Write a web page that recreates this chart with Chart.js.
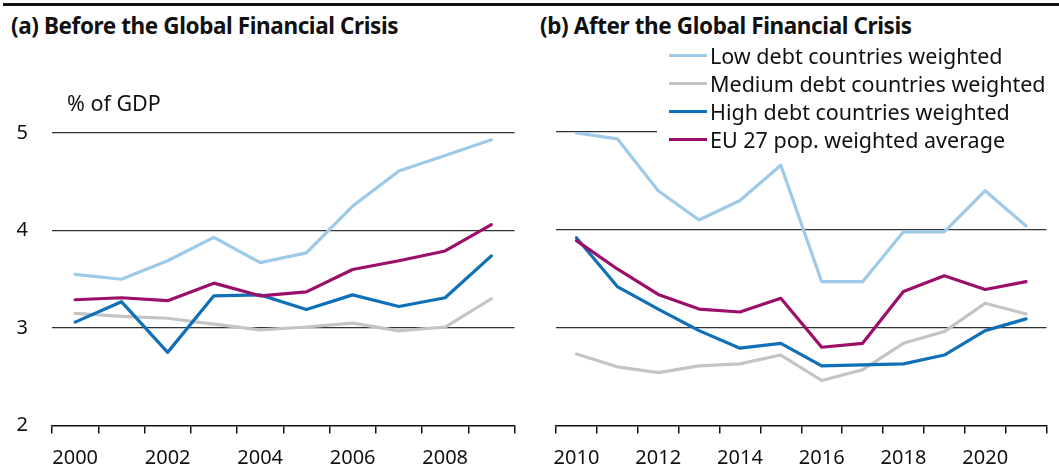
<!DOCTYPE html>
<html lang="en">
<head>
    <meta charset="UTF-8">
    <title>Before and after the Global Financial Crisis</title>
    <style>
        * {
            margin: 0;
            padding: 0;
            box-sizing: border-box;
        }

        body {
            width: 1059px;
            height: 468px;
            background: white;
            position: relative;
            overflow: hidden;
            font-family: 'Noto Sans', sans-serif;
            color: #111;
        }

        .top-rule {
            position: absolute;
            left: 3px;
            right: 0;
            top: 3px;
            height: 3px;
            background: #111;
        }

        .panel-title {
            position: absolute;
            top: 11px;
            font-size: 22.5px;
            line-height: 30px;
            font-weight: 700;
            letter-spacing: -0.4px;
            white-space: nowrap;
        }

        .unit {
            position: absolute;
            left: 67px;
            top: 89px;
            font-size: 21.5px;
            line-height: 28px;
            z-index: 2;
        }

        .chart-box {
            position: absolute;
        }

        #legend {
            position: absolute;
            left: 657px;
            top: 41px;
            width: 402px;
            height: 112px;
            background: white;
        }

        #legend .row {
            height: 28px;
            display: flex;
            align-items: center;
            font-size: 21.5px;
            white-space: nowrap;
        }

        #legend .swatch {
            width: 38px;
            height: 3px;
            margin-left: 12px;
            margin-right: 3px;
        }
    </style>
</head>
<body>
    <div class="top-rule"></div>
    <div class="panel-title" style="left: 11px;">(a) Before the Global Financial Crisis</div>
    <div class="panel-title" style="left: 540px;">(b) After the Global Financial Crisis</div>
    <div class="unit">% of GDP</div>

    <!-- left canvas is taller: chart.js reserves extra room above for the y labels -->
    <div class="chart-box" style="left: 0; top: 97px;">
        <canvas id="beforeChart" width="530" height="371"></canvas>
    </div>
    <div class="chart-box" style="left: 530px; top: 120px;">
        <canvas id="afterChart" width="529" height="348"></canvas>
    </div>

    <div id="legend"></div>

    <script src="https://cdn.jsdelivr.net/npm/chart.js"></script>
    <script>
        // data
        const yearsBefore = ['2000', '2001', '2002', '2003', '2004', '2005', '2006', '2007', '2008', '2009'];
        const yearsAfter = ['2010', '2011', '2012', '2013', '2014', '2015', '2016', '2017', '2018', '2019', '2020', '2021'];

        const lowBefore = [3.55, 3.50, 3.69, 3.93, 3.67, 3.77, 4.25, 4.61, 4.77, 4.93];
        const mediumBefore = [3.15, 3.12, 3.10, 3.04, 2.98, 3.01, 3.05, 2.97, 3.01, 3.30];
        const highBefore = [3.06, 3.27, 2.75, 3.33, 3.34, 3.19, 3.34, 3.22, 3.31, 3.74];
        const euBefore = [3.29, 3.31, 3.28, 3.46, 3.33, 3.37, 3.60, 3.69, 3.79, 4.06];

        const lowAfter = [4.99, 4.93, 4.40, 4.10, 4.30, 4.66, 3.47, 3.47, 3.98, 3.98, 4.40, 4.04];
        const mediumAfter = [2.73, 2.60, 2.54, 2.61, 2.63, 2.72, 2.46, 2.57, 2.84, 2.96, 3.25, 3.14];
        const highAfter = [3.92, 3.42, 3.19, 2.97, 2.79, 2.84, 2.61, 2.62, 2.63, 2.72, 2.97, 3.09];
        const euAfter = [3.89, 3.60, 3.34, 3.19, 3.16, 3.30, 2.80, 2.84, 3.37, 3.53, 3.39, 3.47];

        const seriesNames = ['Low debt countries weighted', 'Medium debt countries weighted', 'High debt countries weighted', 'EU 27 pop. weighted average'];
        const seriesColors = ['#9ecae9', '#c4c4c4', '#0f70b7', '#9b0f6b'];
        const yTickValues = [2, 3, 4, 5];

        const tickFont = { family: "'Noto Sans', sans-serif", size: 20 };

        function makeDatasets(series) {
            return series.map(function (values, i) {
                return {
                    label: seriesNames[i],
                    data: values,
                    borderColor: seriesColors[i],
                    backgroundColor: seriesColors[i],
                    borderWidth: 3.2,
                    pointRadius: 0,
                    tension: 0,
                    borderJoinStyle: 'round',
                    borderCapStyle: 'round',
                    order: [3, 2, 1, 0][i]
                };
            });
        }

        function makeOptions(yWidth, topPad, rightPad, showYLabels) {
            return {
                responsive: false,
                animation: false,
                layout: { padding: { top: topPad, right: rightPad, left: 0, bottom: 0 } },
                plugins: { legend: { display: false }, tooltip: { enabled: false } },
                scales: {
                    x: {
                        offset: true,
                        grid: {
                            offset: true,
                            drawOnChartArea: false,
                            drawTicks: true,
                            tickLength: 8,
                            color: '#111',
                            lineWidth: 1.5
                        },
                        border: { display: true, color: '#111', width: 1.5 },
                        ticks: {
                            autoSkip: false,
                            maxRotation: 0,
                            padding: 13,
                            color: '#111',
                            font: tickFont,
                            callback: function (value, index) {
                                return index % 2 === 0 ? this.getLabelForValue(value) : '';
                            }
                        },
                        afterFit: function (scale) { scale.height = 42.5; }
                    },
                    y: {
                        min: 2,
                        max: 5,
                        afterBuildTicks: function (scale) {
                            scale.ticks = yTickValues.map(function (v) { return { value: v }; });
                        },
                        grid: {
                            drawTicks: false,
                            color: function (ctx) { return ctx.tick && ctx.tick.value === 2 ? 'rgba(0,0,0,0)' : '#333'; },
                            lineWidth: 1.3
                        },
                        border: { display: false },
                        ticks: {
                            display: showYLabels,
                            padding: 24,
                            color: '#111',
                            font: tickFont
                        },
                        afterFit: function (scale) { scale.width = yWidth; }
                    }
                }
            };
        }

        new Chart(document.getElementById('beforeChart').getContext('2d'), {
            type: 'line',
            data: {
                labels: yearsBefore,
                datasets: makeDatasets([lowBefore, mediumBefore, highBefore, euBefore])
            },
            options: makeOptions(52, 0, 15.5, true)
        });

        new Chart(document.getElementById('afterChart').getContext('2d'), {
            type: 'line',
            data: {
                labels: yearsAfter,
                datasets: makeDatasets([lowAfter, mediumAfter, highAfter, euAfter])
            },
            options: makeOptions(26, 12, 12.5, false)
        });

        // legend sits over the right panel with a white box
        const legend = document.getElementById('legend');
        seriesNames.forEach(function (name, i) {
            const row = document.createElement('div');
            row.className = 'row';
            row.innerHTML = '<span class="swatch" style="background:' + seriesColors[i] + '"></span><span>' + name + '</span>';
            legend.appendChild(row);
        });
    </script>
</body>
</html>
